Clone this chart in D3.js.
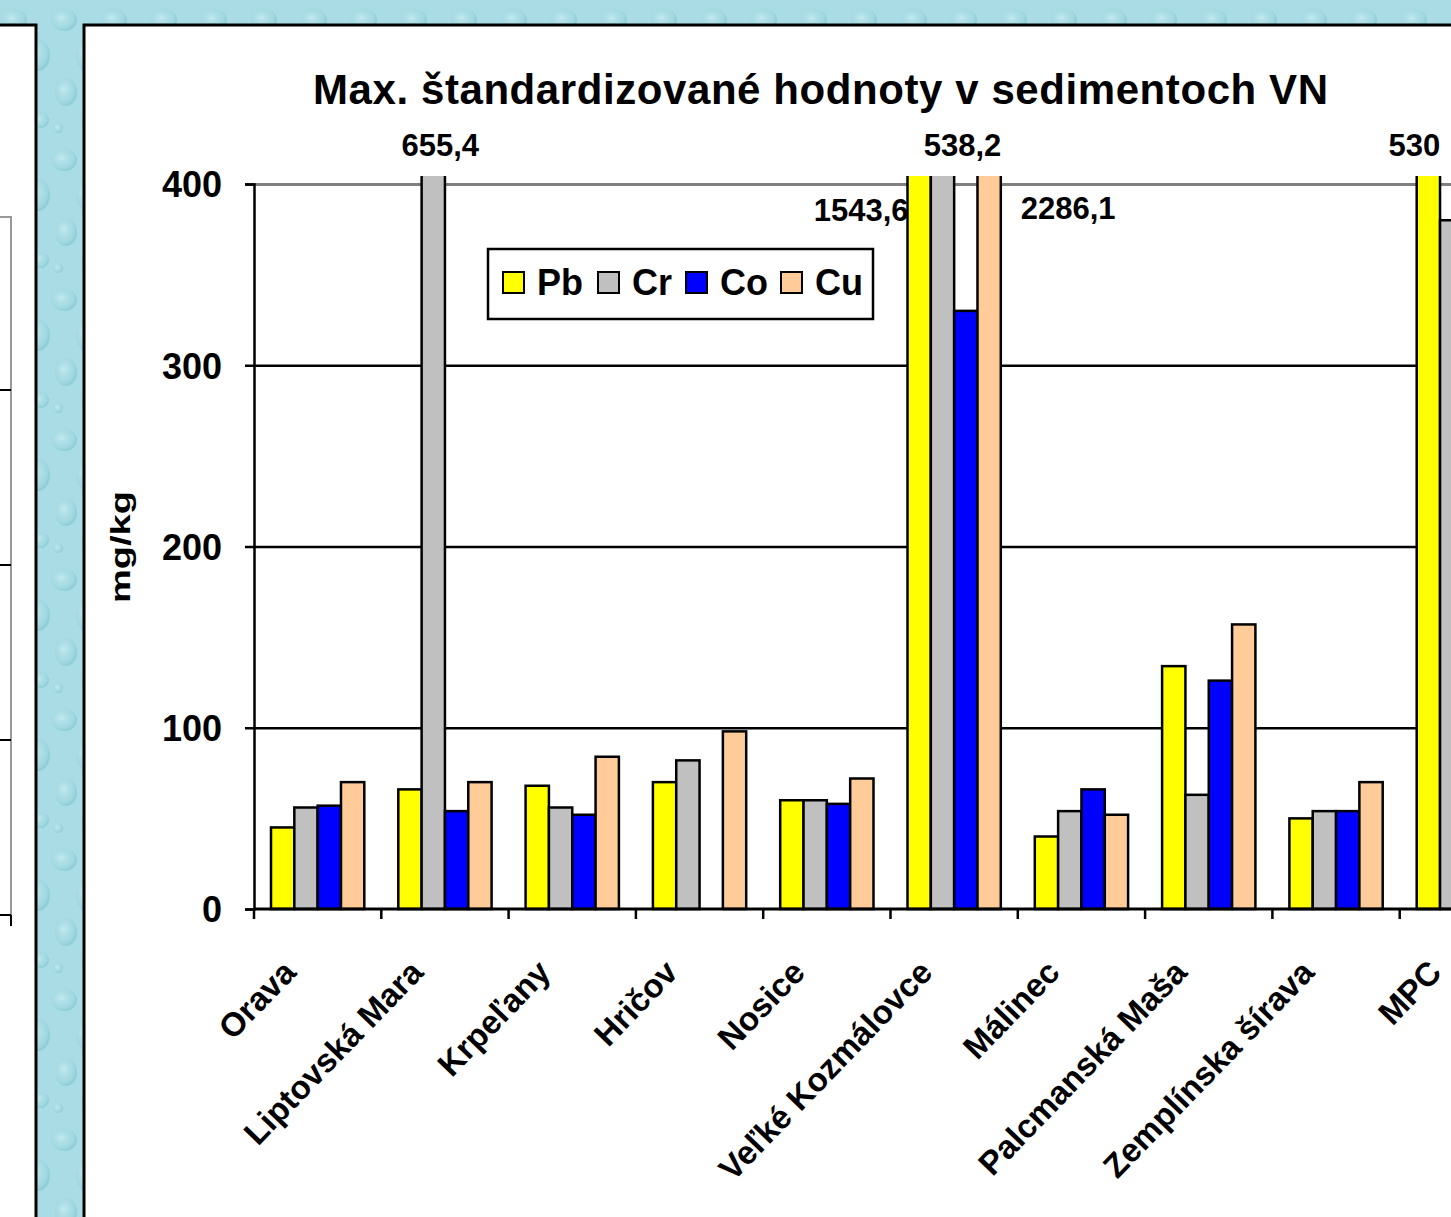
<!DOCTYPE html>
<html>
<head>
<meta charset="utf-8">
<script src="https://cdn.jsdelivr.net/npm/d3@7"></script>
<style>
  html, body { margin: 0; padding: 0; background: #a8dce4; }
  svg { display: block; }
  text { font-family: "Liberation Sans", Arial, sans-serif; font-weight: bold; fill: #000; }
</style>
</head>
<body>
<div id="chart"></div>
<script>
// chart data
const categories = ["Orava", "Liptovská Mara", "Krpeľany", "Hričov", "Nosice",
  "Veľké Kozmálovce", "Málinec", "Palcmanská Maša", "Zemplínska šírava", "MPC"];
const pb = [45, 66, 68, 70, 60, 1543.6, 40, 134, 50, 530];
const cr = [56, 655.4, 56, 82, 60, 538.2, 54, 63, 54, 380];
const co = [57, 54, 52, null, 58, 330, 66, 126, 54, 240];
const cu = [70, 70, 84, 98, 72, 2286.1, 52, 157, 70, 190];
const seriesNames = ["Pb", "Cr", "Co", "Cu"];
const seriesColors = ["#ffff00", "#c0c0c0", "#0000ff", "#ffcc99"];
const yTicks = [0, 100, 200, 300, 400];
const title = "Max. štandardizované hodnoty v sedimentoch VN";
const yTitle = "mg/kg";
// values above the axis max, written as text next to the cut bars
const overLabels = [
  {cat: "Liptovská Mara", series: "Cr", text: "655,4"},
  {cat: "Veľké Kozmálovce", series: "Pb", text: "1543,6"},
  {cat: "Veľké Kozmálovce", series: "Cr", text: "538,2"},
  {cat: "Veľké Kozmálovce", series: "Cu", text: "2286,1"},
  {cat: "MPC", series: "Pb", text: "530"}
];

const W = 1451, H = 1217;
const values = [pb, cr, co, cu];

const svg = d3.select("#chart").append("svg")
  .attr("width", W)
  .attr("height", H);

const defs = svg.append("defs");

// water drop texture
const drop = defs.append("radialGradient").attr("id", "drop")
  .attr("cx", "40%").attr("cy", "40%").attr("r", "60%");
drop.append("stop").attr("offset", "0%").attr("stop-color", "#c9eef3").attr("stop-opacity", 0.8);
drop.append("stop").attr("offset", "70%").attr("stop-color", "#9fd6df").attr("stop-opacity", 0.4);
drop.append("stop").attr("offset", "100%").attr("stop-color", "#7cc3cf").attr("stop-opacity", 0.6);

const pat = defs.append("pattern").attr("id", "water")
  .attr("patternUnits", "userSpaceOnUse")
  .attr("width", 50).attr("height", 140);
pat.append("rect").attr("width", 50).attr("height", 140).attr("fill", "#a9dce4");
const drops = [[14, 20, 13, 11], [38, 55, 12, 16], [16, 92, 11, 14], [40, 120, 9, 8], [8, 128, 5, 5]];
pat.selectAll("ellipse").data(drops).join("ellipse")
  .attr("cx", d => d[0]).attr("cy", d => d[1])
  .attr("rx", d => d[2]).attr("ry", d => d[3])
  .attr("fill", "url(#drop)");

svg.append("rect").attr("width", W).attr("height", H).attr("fill", "url(#water)");

// left partial panel
svg.append("rect")
  .attr("x", -10).attr("y", 25).attr("width", 46).attr("height", H)
  .attr("fill", "#fff").attr("stroke", "#000").attr("stroke-width", 3);
const leftPanel = svg.append("g");
leftPanel.append("path")
  .attr("d", "M0,217H11V916")
  .attr("fill", "none").attr("stroke", "#999").attr("stroke-width", 2);
leftPanel.selectAll("line.lt").data([390, 565, 740, 915]).join("line")
  .attr("class", "lt")
  .attr("x1", 0).attr("x2", 11).attr("y1", d => d).attr("y2", d => d)
  .attr("stroke", "#000").attr("stroke-width", 2);
leftPanel.append("line").attr("x1", 11).attr("x2", 11).attr("y1", 915).attr("y2", 926)
  .attr("stroke", "#000").attr("stroke-width", 2);

// main panel
svg.append("rect")
  .attr("x", 84).attr("y", 25).attr("width", W).attr("height", H)
  .attr("fill", "#fff").attr("stroke", "#000").attr("stroke-width", 3);

// plot
const plotLeft = 254, plotTop = 184, plotBottom = 909;
const catW = 127.3;

const x = d3.scaleBand()
  .domain(categories)
  .range([plotLeft, plotLeft + catW * categories.length])
  .padding(0);
const xs = d3.scaleBand()
  .domain(seriesNames)
  .range([17, catW - 17])
  .padding(0);
const y = d3.scaleLinear().domain([0, 400]).range([plotBottom, plotTop]);

// gridlines
const grid = svg.append("g").attr("transform", `translate(${plotLeft},0)`)
  .call(d3.axisLeft(y).tickValues(yTicks.slice(1)).tickSize(-(W - plotLeft + 10)).tickFormat(""));
grid.select(".domain").remove();
grid.selectAll(".tick line")
  .attr("stroke", d => d === 400 ? "#808080" : "#000")
  .attr("stroke-width", d => d === 400 ? 3 : 2.5);

// bars
defs.append("clipPath").attr("id", "plotclip")
  .append("rect").attr("x", plotLeft).attr("y", 176).attr("width", W).attr("height", plotBottom - 176 + 2);

const barData = [];
categories.forEach((c, i) => {
  seriesNames.forEach((s, j) => {
    if (values[j][i] != null) barData.push({cat: c, series: s, value: values[j][i], color: seriesColors[j]});
  });
});

svg.append("g").attr("clip-path", "url(#plotclip)")
  .selectAll("rect").data(barData).join("rect")
  .attr("x", d => x(d.cat) + xs(d.series))
  .attr("width", xs.bandwidth())
  .attr("y", d => y(d.value))
  .attr("height", d => y(0) - y(d.value))
  .attr("fill", d => d.color)
  .attr("stroke", "#000")
  .attr("stroke-width", 2.5);

// y axis
const yAxis = svg.append("g").attr("transform", `translate(${plotLeft},0)`)
  .call(d3.axisLeft(y).tickValues(yTicks).tickSize(9).tickPadding(23));
yAxis.select(".domain").attr("stroke", "#000").attr("stroke-width", 2.5);
yAxis.selectAll(".tick line").attr("stroke", "#000").attr("stroke-width", 2.5);
yAxis.selectAll(".tick text")
  .style("font-size", "36px").style("font-family", "Liberation Sans, Arial, sans-serif")
  .style("font-weight", "bold").attr("fill", "#000").attr("dy", "0.36em");

// x axis line and boundary ticks
const xAxis = svg.append("g");
xAxis.append("line")
  .attr("x1", plotLeft).attr("x2", W + 10)
  .attr("y1", y(0)).attr("y2", y(0))
  .attr("stroke", "#000").attr("stroke-width", 3);
xAxis.selectAll("line.xt").data(categories).join("line")
  .attr("class", "xt")
  .attr("x1", d => x(d)).attr("x2", d => x(d))
  .attr("y1", y(0)).attr("y2", y(0) + 10)
  .attr("stroke", "#000").attr("stroke-width", 2.5);

// category labels
xAxis.selectAll("text").data(categories).join("text")
  .attr("transform", d => `translate(${x(d) + x.bandwidth() / 2 - 20},974) rotate(-46)`)
  .attr("text-anchor", "end")
  .style("font-size", "33px")
  .text(d => d);

// value labels for the cut bars
const barCenter = d => x(d.cat) + xs(d.series) + xs.bandwidth() / 2;
const labelPos = {
  "655,4": d => [barCenter(d) + 7, 156, "middle"],
  "538,2": d => [barCenter(d) + 20, 156, "middle"],
  "530": d => [barCenter(d) - 14, 156, "middle"],
  "1543,6": d => [x(d.cat) + xs(d.series) + 1, 221, "end"],
  "2286,1": d => [x(d.cat) + xs(d.series) + xs.bandwidth() + 20, 219, "start"]
};
svg.append("g").selectAll("text").data(overLabels).join("text")
  .each(function(d) {
    const p = labelPos[d.text](d);
    d3.select(this).attr("x", p[0]).attr("y", p[1]).attr("text-anchor", p[2]);
  })
  .style("font-size", "31px")
  .text(d => d.text);

// title
svg.append("text")
  .attr("x", 313).attr("y", 104)
  .attr("textLength", 1015).attr("lengthAdjust", "spacing")
  .style("font-size", "42px")
  .text(title);

// y title
svg.append("text")
  .attr("transform", "translate(130,547) rotate(-90)")
  .attr("text-anchor", "middle")
  .attr("textLength", 112).attr("lengthAdjust", "spacingAndGlyphs")
  .style("font-size", "28px")
  .text(yTitle);

// legend
const legend = svg.append("g").attr("transform", "translate(488,249)");
legend.append("rect")
  .attr("width", 385).attr("height", 70)
  .attr("fill", "#fff").attr("stroke", "#000").attr("stroke-width", 2.5);
const legendX = [15, 110, 198, 293];
const item = legend.selectAll("g.item").data(seriesNames).join("g")
  .attr("class", "item")
  .attr("transform", (d, i) => `translate(${legendX[i]},23)`);
item.append("rect")
  .attr("width", 21).attr("height", 21)
  .attr("fill", (d, i) => seriesColors[i])
  .attr("stroke", "#000").attr("stroke-width", 2);
item.append("text")
  .attr("x", 34).attr("y", 23)
  .style("font-size", "36px")
  .text(d => d);
</script>
</body>
</html>
